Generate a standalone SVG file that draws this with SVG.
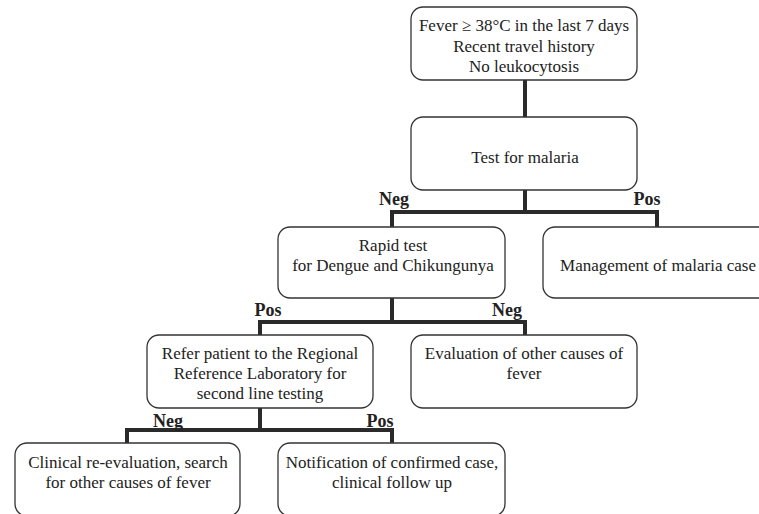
<svg xmlns="http://www.w3.org/2000/svg" width="759" height="514" viewBox="0 0 759 514">
<style>
.box{fill:#fff;stroke:#333;stroke-width:1.3}
.t{font-family:"Liberation Serif","Times New Roman",serif;font-size:17px;fill:#222;text-anchor:middle}
.l{font-family:"Liberation Serif","Times New Roman",serif;font-size:18px;font-weight:bold;fill:#222;text-anchor:middle}
.c{fill:none;stroke:#2a2a2a;stroke-width:4}
</style>
<rect width="759" height="514" fill="#fff"/>
<g id="connectors">
<path class="c" d="M525 80V117M525 190V212M392 212H657M392 210V227M657 210V227"/>
<path class="c" d="M392 298V322M260 322H525M260 320V335M525 320V335"/>
<path class="c" d="M260 408V430M127 430H392M127 428V443M392 428V443"/>
<text class="l" x="394" y="205">Neg</text>
<text class="l" x="647" y="205">Pos</text>
<text class="l" x="268" y="316">Pos</text>
<text class="l" x="507" y="316">Neg</text>
<text class="l" x="168" y="427">Neg</text>
<text class="l" x="380" y="427">Pos</text>
</g>
<g id="fever">
<rect class="box" x="411" y="7" width="226" height="73" rx="12"/>
<text class="t" x="524" y="31">Fever ≥ 38°C in the last 7 days</text>
<text class="t" x="524" y="52">Recent travel history</text>
<text class="t" x="524" y="72">No leukocytosis</text>
</g>
<g id="malaria-test">
<rect class="box" x="411" y="117" width="226" height="73" rx="12"/>
<text class="t" x="525" y="163">Test for malaria</text>
</g>
<g id="rapid-test">
<rect class="box" x="278" y="227" width="227" height="71" rx="12"/>
<text class="t" x="393" y="251">Rapid test</text>
<text class="t" x="393" y="271">for Dengue and Chikungunya</text>
</g>
<g id="malaria-management">
<rect class="box" x="543" y="227" width="230" height="71" rx="12"/>
<text class="t" x="658" y="271">Management of malaria case</text>
</g>
<g id="refer">
<rect class="box" x="147" y="335" width="226" height="73" rx="12"/>
<text class="t" x="260" y="359">Refer patient to the Regional</text>
<text class="t" x="260" y="379">Reference Laboratory for</text>
<text class="t" x="260" y="399">second line testing</text>
</g>
<g id="evaluation">
<rect class="box" x="411" y="335" width="226" height="73" rx="12"/>
<text class="t" x="524" y="359">Evaluation of other causes of</text>
<text class="t" x="524" y="379">fever</text>
</g>
<g id="clinical">
<rect class="box" x="15" y="443" width="225" height="73" rx="12"/>
<text class="t" x="128" y="468">Clinical re-evaluation, search</text>
<text class="t" x="128" y="488">for other causes of fever</text>
</g>
<g id="notification">
<rect class="box" x="278" y="443" width="227" height="73" rx="12"/>
<text class="t" x="392" y="468">Notification of confirmed case,</text>
<text class="t" x="392" y="488">clinical follow up</text>
</g>
</svg>
